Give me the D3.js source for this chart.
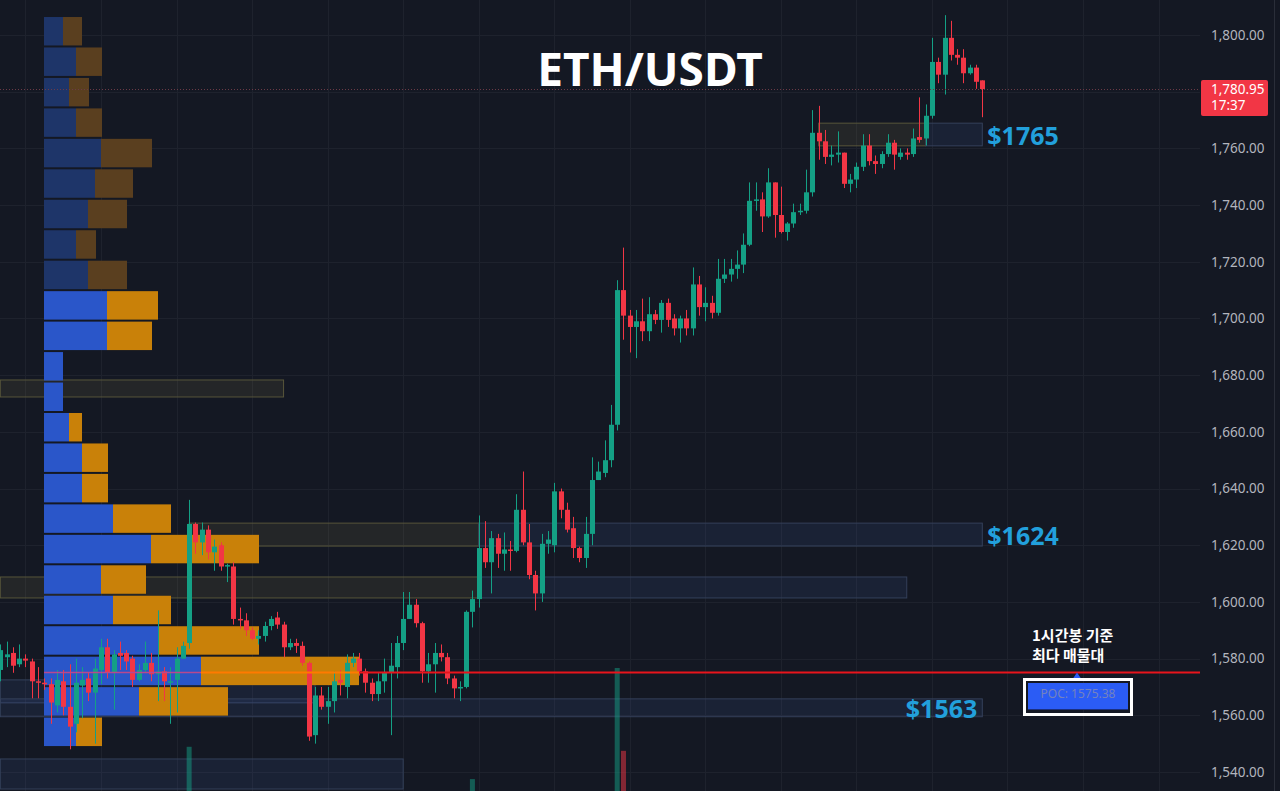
<!DOCTYPE html>
<html>
<head>
<meta charset="utf-8">
<script src="https://cdn.jsdelivr.net/npm/d3@7"></script>
<style>
  html, body { margin:0; padding:0; background:#141823; overflow:hidden; }
  svg { display:block; }
</style>
</head>
<body>
<svg id="chart" width="1280" height="791"></svg>
<script>

// 1h candles, ETH/USDT
var opens = [1576,1580.5,1582,1578,1580,1579,1572,1571.5,1571,1563.5,1572,1563,1557,1570.5,1573,1568,1576,1584,1575,1582,
  1582,1580,1572.5,1576,1578.5,1574.5,1575.5,1571.5,1572.5,1580,1585.5,1627.5,1621,1625.5,1617.5,1620,1612.5,1612.5,1594,1593.5,
  1590,1587,1588,1591.5,1594.5,1592,1584,1585.5,1584.5,1578.5,1553,1567,1563,1565,1572.5,1570,1578.5,1580,1575.5,1571.5,
  1567.5,1572,1575,1577,1585.5,1594,1599,1592.5,1575.5,1578,1582,1580.5,1573,1569.5,1570,1596.5,1601,1619,1614,1622.5,
  1617,1618.5,1618,1632.5,1621,1609.5,1603,1620.5,1620,1639,1632.5,1626,1619,1615.5,1624,1643,1645.5,1650,1662.5,1710,
  1701,1697,1699,1695.5,1701.5,1699.5,1705.5,1700,1696.5,1700,1696.5,1712,1704,1705.5,1702,1714,1715.5,1717.5,1719,1726,
  1741.5,1742,1736,1748,1736.5,1730.5,1733.5,1737.5,1738,1744.5,1765.5,1762.5,1757,1757.8,1758.5,1747.5,1749,1753.5,1761,1755.5,
  1754.5,1758,1762,1757,1758.5,1758,1764,1763.5,1771.5,1790.5,1786,1799,1793,1792,1786.5,1788.5,1784];
var highs = [1585,1586,1584,1585,1581.5,1580,1577,1573,1573,1576,1576,1578,1580,1577,1575,1580,1587,1587,1583,1586,
  1583,1581,1578,1586,1582,1597,1577,1577,1584,1586,1636,1628,1628,1627,1622,1621,1613.5,1614,1598,1596,
  1591,1590,1593,1595,1596.5,1593,1587,1587,1586,1579,1570,1570,1570,1575.5,1576,1581.5,1582,1582,1576.5,1573,
  1575,1580,1585.5,1588,1603.5,1603.5,1601,1593,1582,1585.5,1585,1582,1574,1572,1597,1604,1630.5,1628.5,1625,1624,
  1624.5,1621.5,1638,1646,1627.5,1611,1624,1625,1642,1640,1635,1630,1619.5,1630,1651,1649.5,1657,1669.5,1713.5,1725,
  1703,1703,1707,1707.5,1703,1706.5,1707,1701.5,1701,1703,1718,1715,1711,1708,1721,1721,1721,1724,1730,1748,
  1748,1744.5,1753,1748,1746.5,1734,1740.5,1740.5,1752.5,1773.5,1775,1766.5,1761,1766,1758.5,1751,1755,1765,1765,1757.5,
  1759,1765,1763,1760,1760,1767,1778,1775.5,1799,1792,1807,1805,1795,1795,1789.5,1789.5,1784];
var lows = [1572,1577,1575,1577,1577,1566,1566,1569,1557,1561,1560,1548,1554,1559,1565,1550,1571,1573,1562,1576,
  1576,1570,1572,1575,1572,1565,1565,1557,1561,1580,1583.5,1617,1616.5,1615,1611,1611,1607,1592,1590.5,1588,
  1586.5,1585,1586,1590,1590.5,1580.5,1583,1582,1577.5,1551,1550,1562,1557,1561,1567,1566,1577,1574,1568,1565,
  1565,1568,1553,1573,1583,1594,1591,1571.5,1571.5,1568,1579,1571,1566,1565,1569.5,1591,1598,1612,1603,1612,
  1611,1611,1617.5,1620,1608,1597,1600,1617,1617.5,1629.5,1624.5,1615.5,1614,1612,1620,1643,1644,1647.5,1660.5,1692.5,
  1688,1686,1692,1692,1698,1695,1697,1694,1691.5,1694,1694,1701,1699,1700,1701,1712.5,1713,1714,1716,1725.5,
  1738,1730.5,1735.5,1728.5,1730,1727.5,1732,1736.5,1737,1743,1756,1754.5,1754,1755,1746,1744.5,1746,1752,1754,1751,
  1753,1757,1752.5,1756,1756,1757,1762,1761,1770.5,1783,1779,1791,1789.5,1783,1786,1781,1771];
var closes = [1583,1581.5,1577.5,1580,1579.3,1572,1571.5,1571,1564.5,1572.5,1563,1556,1571.5,1572.5,1568,1576.5,1584,1575,1581.5,1581,
  1579,1572.5,1576,1578.5,1574.5,1575.5,1572,1572,1580,1584.5,1627.5,1621,1625.5,1617.5,1619.5,1612.5,1613,1594,1593.5,1590,
  1587,1588,1591.5,1594,1592,1584,1585.5,1584.5,1578.5,1552.5,1567,1563,1565,1572,1571.5,1578.5,1580,1575.5,1571.5,1567.5,
  1572,1575,1577.5,1585.5,1594,1599,1592.5,1575.5,1578,1582,1580.5,1573,1569.5,1570,1596.5,1601,1619,1614,1622.5,1617,
  1618.5,1618,1632.5,1621,1609.5,1603,1620.5,1622,1639,1632.5,1625.5,1619,1615.5,1624,1643,1646,1650,1662.5,1710,1701,
  1697,1699,1695.5,1701.5,1699.5,1705.5,1699.5,1696.5,1700,1696.5,1712,1704,1705.5,1702,1714,1715.5,1717.5,1719,1726,1741.5,
  1742,1736,1748,1736.5,1730.5,1733.5,1737.5,1738,1744.5,1765.5,1762.5,1757,1757.8,1758.5,1747.5,1749,1753.5,1761,1755.5,1754.5,
  1758,1762,1757.8,1758.5,1757.8,1763.5,1763,1771.5,1790.5,1786,1799,1793,1792,1786.5,1788.5,1783.5,1780.95];

// only the tallest volume bars reach into view
var volIndex = [30, 75, 98, 99];
var volValue = [61, 45, 100, 59];

// volume profile rows, top to bottom (up / down volume)
var vpUp   = [19,32,25,32,57,51,44,32,44,63,63,19,19,25,38,38,69,107,57,69,114,157,95,32];
var vpDown = [19,26,20,26,51,38,39,20,39,51,45, 0, 0,13,26,26,58,108,45,58,101,158,89,26];
var vpTop = 1806.7, vpRow = 10.746, vaFirst = 9;
var poc = 1575.38;

var priceTicks = [1540,1560,1580,1600,1620,1640,1660,1680,1700,1720,1740,1760,1780,1800];
var lastPrice = 1780.95, lastTime = "17:37";

// zones: price band + candle index range
var zones = [
  {top:1678.3, bot:1672.3, from:0,   to:45,  kind:'y'},
  {top:1608.8, bot:1601.4, from:0,   to:76,  kind:'y'},
  {top:1608.8, bot:1601.4, from:76,  to:144, kind:'b'},
  {top:1627.8, bot:1619.7, from:30,  to:76,  kind:'y'},
  {top:1627.8, bot:1619.7, from:76,  to:156, kind:'b'},
  {top:1768.9, bot:1760.9, from:130, to:147, kind:'y'},
  {top:1768.9, bot:1760.9, from:147, to:156, kind:'b'},
  {top:1572.5, bot:1564.4, from:0,   to:50,  kind:'b'},
  {top:1565.8, bot:1559.5, from:0,   to:156, kind:'b'},
  {top:1544.6, bot:1534.0, from:0,   to:64,  kind:'b'}
];
var zoneLabels = [
  {text:"$1765", price:1764.9, at:156, side:'right'},
  {text:"$1624", price:1623.7, at:156, side:'right'},
  {text:"$1563", price:1562.6, at:156, side:'left'}
];

var UP = "#14a085", DOWN = "#f23645";

function draw(){
  var svg = d3.select("#chart");
  var plotRight = 1200;

  var x = d3.scaleLinear().domain([0, 156]).range([0.3, 982.3]);
  var y = d3.scaleLinear().domain([1540, 1800]).range([772, 35]);

  svg.append("rect").attr("width",1280).attr("height",791).attr("fill","#141823");

  // grid
  var grid = svg.append("g");
  grid.selectAll("line.h").data(priceTicks).enter().append("line")
    .attr("x1",0).attr("x2",plotRight)
    .attr("y1",function(d){ return Math.round(y(d))+0.5; })
    .attr("y2",function(d){ return Math.round(y(d))+0.5; })
    .attr("stroke","#1e222d");
  grid.selectAll("line.v").data(d3.range(4, 190, 12)).enter().append("line")
    .attr("x1",function(d){ return Math.round(x(d))+0.5; })
    .attr("x2",function(d){ return Math.round(x(d))+0.5; })
    .attr("y1",0).attr("y2",791)
    .attr("stroke","#1e222d");
  svg.append("line").attr("x1",1274.5).attr("x2",1274.5).attr("y1",0).attr("y2",791)
    .attr("stroke","#2a2e39");

  // zones
  svg.append("g").selectAll("rect").data(zones).enter().append("rect")
    .attr("x",function(d){ return x(d.from); })
    .attr("width",function(d){ return x(d.to) - x(d.from); })
    .attr("y",function(d){ return y(d.top); })
    .attr("height",function(d){ return y(d.bot) - y(d.top); })
    .attr("fill",function(d){ return d.kind=='y' ? "rgba(255,230,120,0.07)" : "rgba(70,110,190,0.12)"; })
    .attr("stroke",function(d){ return d.kind=='y' ? "#57553a" : "#34405a"; })
    .attr("stroke-width",1);

  // volume bars (base sits below the visible area)
  var v = d3.scaleLinear().domain([0, 100]).range([870, 668]);
  svg.append("g").selectAll("rect").data(volIndex).enter().append("rect")
    .attr("x",function(d){ return x(d) - 2.5; })
    .attr("width",5)
    .attr("y",function(d,i){ return v(volValue[i]); })
    .attr("height",function(d,i){ return 870 - v(volValue[i]); })
    .attr("fill",function(d){ return closes[d] >= opens[d] ? UP : DOWN; })
    .attr("opacity",0.5);

  // volume profile
  var vx = d3.scaleLinear().domain([0, 315]).range([44, 359]);
  var vp = svg.append("g");
  var rows = d3.range(vpUp.length);
  function rowY(i){ return y(vpTop - i*vpRow) + 1; }
  function rowH(i){ return y(vpTop - (i+1)*vpRow) - y(vpTop - i*vpRow) - 2; }
  vp.selectAll("rect.up").data(rows).enter().append("rect")
    .attr("x",vx(0)).attr("y",rowY).attr("height",rowH)
    .attr("width",function(i){ return vx(vpUp[i]) - vx(0); })
    .attr("fill",function(i){ return i >= vaFirst ? "#2a56c9" : "#1e3569"; });
  vp.selectAll("rect.dn").data(rows).enter().append("rect")
    .attr("x",function(i){ return vx(vpUp[i]); }).attr("y",rowY).attr("height",rowH)
    .attr("width",function(i){ return vx(vpUp[i]+vpDown[i]) - vx(vpUp[i]); })
    .attr("fill",function(i){ return i >= vaFirst ? "#c98109" : "#5a3f1f"; });

  // candles
  var idx = d3.range(opens.length);
  var cg = svg.append("g");
  cg.selectAll("line").data(idx).enter().append("line")
    .attr("x1",function(i){ return Math.round(x(i))+0.5; })
    .attr("x2",function(i){ return Math.round(x(i))+0.5; })
    .attr("y1",function(i){ return y(highs[i]); })
    .attr("y2",function(i){ return y(lows[i]); })
    .attr("stroke",function(i){ return closes[i] >= opens[i] ? UP : DOWN; })
    .attr("stroke-width",1);
  cg.selectAll("rect").data(idx).enter().append("rect")
    .attr("x",function(i){ return Math.round(x(i)) - 2; })
    .attr("width",5)
    .attr("y",function(i){ return y(Math.max(opens[i], closes[i])); })
    .attr("height",function(i){ return Math.max(1.5, Math.abs(y(opens[i]) - y(closes[i]))); })
    .attr("fill",function(i){ return closes[i] >= opens[i] ? UP : DOWN; });

  // POC lines
  var py = Math.round(y(poc)) + 0.5;
  svg.append("line").attr("x1",vx(0)).attr("x2",vx(vpUp[21])).attr("y1",py).attr("y2",py)
    .attr("stroke","#b8488e").attr("stroke-width",1.5);
  svg.append("line").attr("x1",vx(vpUp[21])).attr("x2",vx(vpUp[21]+vpDown[21])).attr("y1",py).attr("y2",py)
    .attr("stroke","#ff7a00").attr("stroke-width",2);
  svg.append("line").attr("x1",vx(vpUp[21]+vpDown[21])).attr("x2",plotRight).attr("y1",py).attr("y2",py)
    .attr("stroke","#e8141c").attr("stroke-width",2);

  // last price dotted line
  svg.append("line").attr("x1",0).attr("x2",plotRight)
    .attr("y1",Math.round(y(lastPrice))+0.5).attr("y2",Math.round(y(lastPrice))+0.5)
    .attr("stroke","#6b3a46").attr("stroke-dasharray","1,2");

  // price axis (the 1,780 label sits under the last price tag)
  var axis = svg.append("g").attr("transform","translate(1199,0)")
    .call(d3.axisRight(y).tickValues(priceTicks.filter(function(d){ return Math.abs(d - lastPrice) > 8; }))
      .tickFormat(d3.format(",.2f")).tickSize(0).tickPadding(12));
  axis.select(".domain").remove();
  axis.selectAll("text").attr("fill","#b2b5be").style("font-family","'Noto Sans', sans-serif").style("font-size","13.5px");

  // last price tag
  var ty = y(lastPrice);
  svg.append("rect").attr("x",1201).attr("y",ty-9).attr("width",67).attr("height",36).attr("rx",2).attr("fill","#f23645");
  svg.append("text").attr("x",1211).attr("y",ty+5).text(d3.format(",.2f")(lastPrice))
    .attr("fill","#fff").style("font-family","'Noto Sans', sans-serif").style("font-size","13.5px");
  svg.append("text").attr("x",1211).attr("y",ty+21).text(lastTime)
    .attr("fill","#fff").style("font-family","'Noto Sans', sans-serif").style("font-size","13.5px");

  // title
  svg.append("text").attr("x",650).attr("y",86).attr("text-anchor","middle").text("ETH/USDT")
    .attr("fill","#fff").style("font-family","'Noto Sans', sans-serif").style("font-weight","bold").style("font-size","46px");

  // zone labels
  svg.append("g").selectAll("text").data(zoneLabels).enter().append("text")
    .attr("x",function(d){ return d.side=='right' ? x(d.at) + 5 : x(d.at) - 5; })
    .attr("y",function(d){ return y(d.price); })
    .attr("dy","0.42em")
    .attr("text-anchor",function(d){ return d.side=='right' ? "start" : "end"; })
    .text(function(d){ return d.text; })
    .attr("fill","#22a0dc").style("font-family","'Noto Sans', sans-serif").style("font-weight","bold").style("font-size","25px");

  // POC callout
  svg.append("text").attr("x",1032).attr("y",641).text("1시간봉 기준")
    .attr("fill","#fff").style("font-family","'Noto Sans CJK KR', sans-serif").style("font-weight","bold").style("font-size","15px");
  svg.append("text").attr("x",1032).attr("y",661).text("최다 매물대")
    .attr("fill","#fff").style("font-family","'Noto Sans CJK KR', sans-serif").style("font-weight","bold").style("font-size","15px");
  svg.append("path").attr("d","M1073,"+(py+6)+"L1077,"+(py)+"L1081,"+(py+6)+"Z").attr("fill","#2b5cf5");
  svg.append("rect").attr("x",1024.5).attr("y",679.5).attr("width",107).attr("height",35)
    .attr("fill","none").attr("stroke","#fff").attr("stroke-width",3);
  svg.append("rect").attr("x",1028).attr("y",683).attr("width",100).attr("height",27).attr("fill","#2b5cf5");
  svg.append("line").attr("x1",1028).attr("x2",1128).attr("y1",709.5).attr("y2",709.5).attr("stroke","#1a2f80");
  svg.append("text").attr("x",1078).attr("y",698).attr("text-anchor","middle").text("POC: " + poc)
    .attr("fill","#7482bd").style("font-family","'Noto Sans', sans-serif").style("font-size","12px");
}

draw();
</script>
</body>
</html>
